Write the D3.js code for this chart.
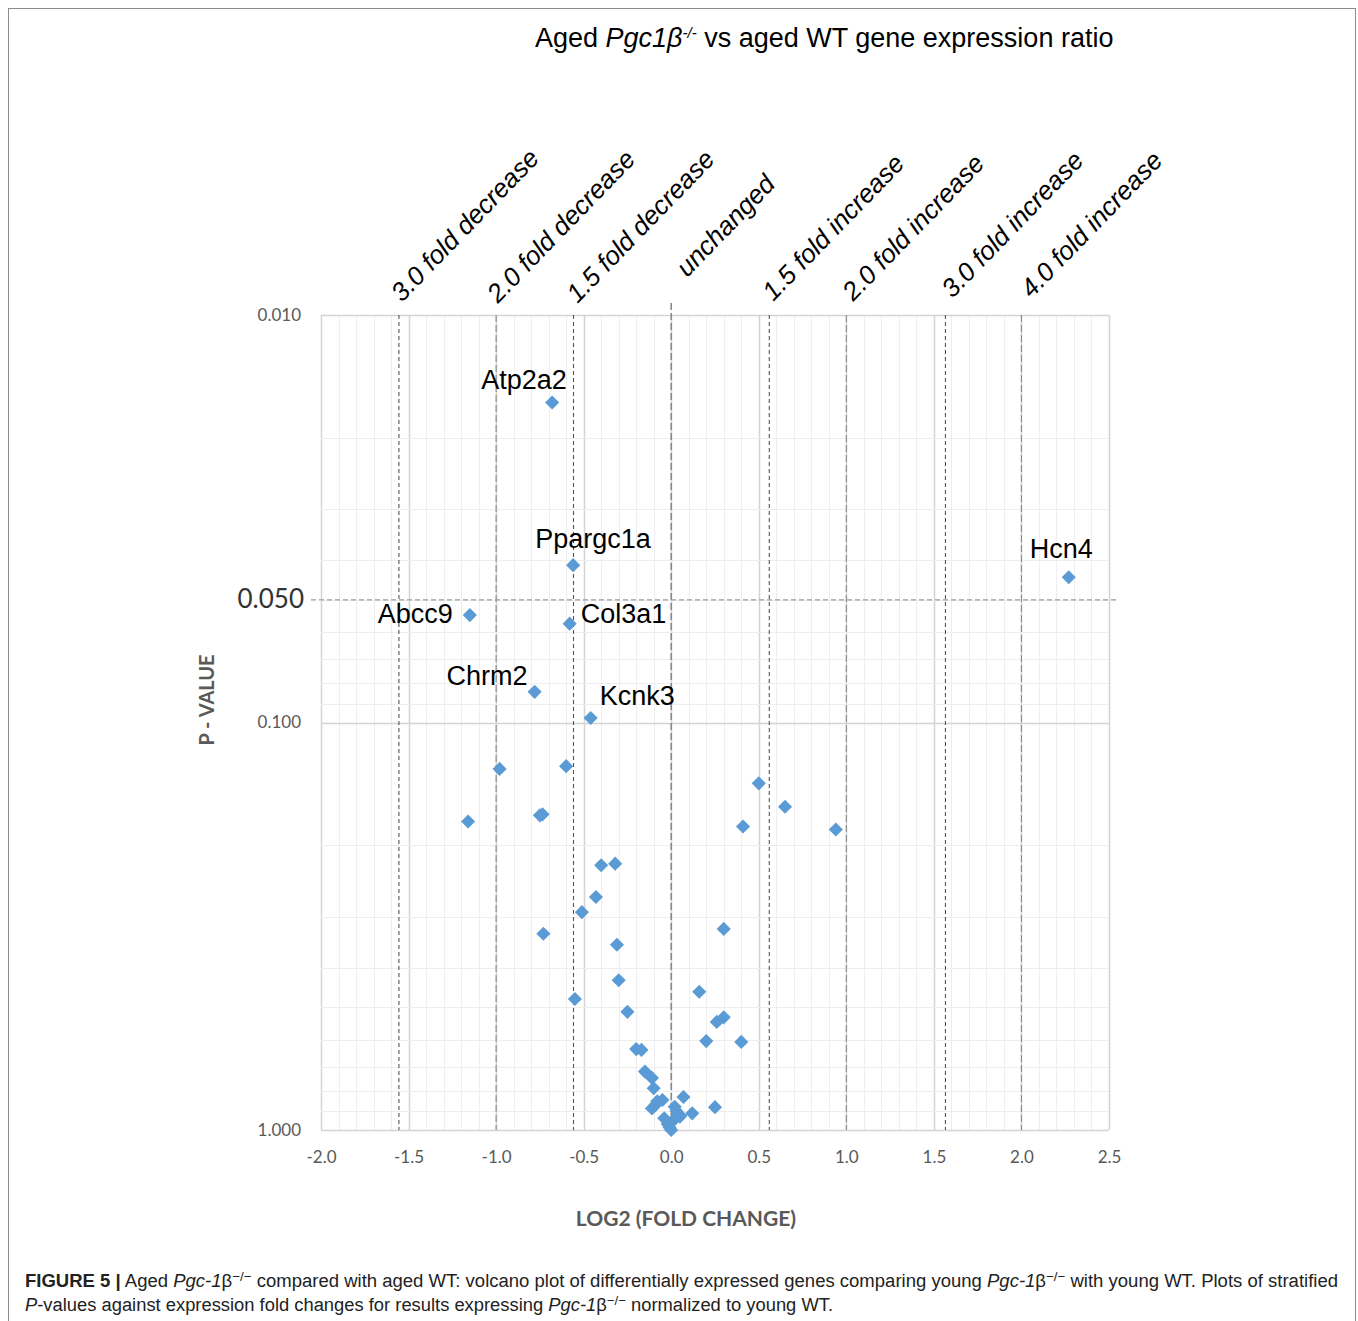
<!DOCTYPE html>
<html>
<head>
<meta charset="utf-8">
<script src="https://cdn.jsdelivr.net/npm/d3@7"></script>
<style>
body { margin:0; background:#fff; }
svg { display:block; }
</style>
</head>
<body>
<svg id="svg1"></svg>
<script>
// gene labels (null = unlabeled point), log2 fold change, p-value
var genes = ["Atp2a2","Ppargc1a","Hcn4","Abcc9","Col3a1","Chrm2","Kcnk3",
    null,null,null,null,null,null,null,null,null,null,null,null,null,null,null,null,null,null,null,null,
    null,null,null,null,null,null,null,null,null,null,null,null,null,null,null,null,null,null,null,null,
    null,null,null,null,null,null];
var log2fc = [-0.68,-0.56,2.27,-1.15,-0.58,-0.78,-0.46,
    -0.98,-0.60,-1.16,-0.75,-0.735,0.50,0.65,0.41,0.94,-0.40,-0.32,-0.43,-0.51,-0.73,-0.31,0.30,-0.30,-0.55,
    0.16,-0.25,0.26,0.30,0.20,0.40,-0.20,-0.17,-0.15,-0.11,-0.10,-0.05,-0.08,-0.11,-0.09,-0.04,-0.02,0.00,
    0.02,0.03,0.05,0.05,0.07,0.12,0.25,0.01,-0.01];
var pvalue = [0.0164,0.0411,0.0440,0.0545,0.0572,0.0841,0.0975,
    0.130,0.128,0.175,0.169,0.168,0.141,0.161,0.180,0.183,0.224,0.222,0.268,0.292,0.330,0.351,0.321,0.429,0.477,
    0.458,0.513,0.543,0.529,0.605,0.608,0.633,0.636,0.719,0.745,0.790,0.844,0.850,0.885,0.868,0.936,0.967,1.000,
    0.877,0.900,0.927,0.920,0.830,0.910,0.879,0.950,0.985];

// fold-change reference lines (log2 values, as drawn) and their captions
var foldLines = [-1.555,-1,-0.558,0,0.56,1,1.566,2];
var foldNames = ["3.0 fold decrease","2.0 fold decrease","1.5 fold decrease","unchanged",
    "1.5 fold increase","2.0 fold increase","3.0 fold increase","4.0 fold increase"];
var xTicks = [-2.0,-1.5,-1.0,-0.5,0.0,0.5,1.0,1.5,2.0,2.5];
var yTicks = [0.01,0.1,1];
var pCutoff = 0.05;

var points = log2fc.map(function(v,i){ return {fc:v, p:pvalue[i], name:genes[i]}; });

var screen = {width:1358,height:1321};
var svg = d3.select("#svg1").attr("width",screen.width).attr("height",screen.height);

var xScale = d3.scaleLinear().domain([-2,2.5]).range([321,1109]);
var yScale = d3.scaleLog().domain([0.01,1]).range([315,1130]);

// frame
svg.append("rect").attr("x",8.5).attr("y",8.5).attr("width",1347).attr("height",1340)
    .attr("fill","none").attr("stroke","#8c8c8c").attr("stroke-width",1);

// grid
var isMajorX = function(d){ return Math.abs(d*2-Math.round(d*2))<1e-6; };
var isMajorY = function(d){ return yTicks.some(function(t){return Math.abs(t-d)<1e-9;}); };
var grid = svg.append("g");
var minorX = d3.range(-20,26).map(function(d){ return d/10; });
grid.selectAll(".vx").data(minorX).enter().append("line")
    .attr("x1",function(d){return Math.round(xScale(d))+0.5;})
    .attr("x2",function(d){return Math.round(xScale(d))+0.5;})
    .attr("y1",315).attr("y2",1130)
    .attr("stroke",function(d){ return isMajorX(d) ? "#d4d4d4" : "#eeeeee"; })
    .attr("stroke-width",function(d){ return isMajorX(d) ? 1.5 : 1; });
var minorY = [];
[0.01,0.1].forEach(function(b){ for(var k=1;k<10;k++) minorY.push(b*k); });
minorY.push(1);
grid.selectAll(".hy").data(minorY).enter().append("line")
    .attr("x1",321).attr("x2",1109)
    .attr("y1",function(d){return Math.round(yScale(d))+0.5;})
    .attr("y2",function(d){return Math.round(yScale(d))+0.5;})
    .attr("stroke",function(d){ return isMajorY(d) ? "#d4d4d4" : "#eeeeee"; })
    .attr("stroke-width",function(d){ return isMajorY(d) ? 1.5 : 1; });

// fold-change dashed lines
svg.selectAll(".fold").data(foldLines).enter().append("line")
    .attr("x1",function(d){return xScale(d);}).attr("x2",function(d){return xScale(d);})
    .attr("y1",function(d){ return d===0 ? 303 : 315; }).attr("y2",1130)
    .attr("stroke",function(d){ return Number.isInteger(d) ? "#8a8a8a" : "#555"; })
    .attr("stroke-width",function(d){ return d===0 ? 1.6 : 1.1; })
    .attr("stroke-dasharray",function(d){ return Number.isInteger(d) ? "7,3" : "4,3"; });

// p = 0.05 line
svg.append("line").attr("x1",311).attr("x2",1116)
    .attr("y1",yScale(pCutoff)).attr("y2",yScale(pCutoff))
    .attr("stroke","#9a9a9a").attr("stroke-width",1.4).attr("stroke-dasharray","5,3");

// axes
var axisFont = "Lato, 'Open Sans', sans-serif";
var xAxis = d3.axisBottom(xScale).tickValues(xTicks).tickSize(0).tickPadding(21)
    .tickFormat(function(d){ return d.toFixed(1); });
svg.append("g").attr("transform","translate(0,1130)").call(xAxis)
    .call(function(g){ g.select(".domain").remove(); })
    .selectAll("text").attr("font-family",axisFont).attr("font-size",17).attr("fill","#595959");

var yAxis = d3.axisLeft(yScale).tickValues(yTicks).tickSize(0).tickPadding(20)
    .tickFormat(d3.format(".3f"));
svg.append("g").attr("transform","translate(321,0)").call(yAxis)
    .call(function(g){ g.select(".domain").remove(); })
    .selectAll("text").attr("font-family",axisFont).attr("font-size",17).attr("fill","#595959");

svg.append("text").text(d3.format(".3f")(pCutoff))
    .attr("x",304).attr("y",yScale(pCutoff)+8).attr("text-anchor","end")
    .attr("font-family",axisFont).attr("font-size",26).attr("fill","#333");

// axis titles
svg.append("text").text("LOG2 (FOLD CHANGE)")
    .attr("x",686).attr("y",1226).attr("text-anchor","middle")
    .attr("font-family",axisFont).attr("font-weight","bold")
    .attr("font-size",21).attr("fill","#595959");
svg.append("text").text("P - VALUE")
    .attr("text-anchor","middle")
    .attr("transform","translate(214,700) rotate(-90)")
    .attr("font-family",axisFont).attr("font-weight","bold")
    .attr("font-size",20).attr("fill","#595959");

// fold captions above the plot
var foldNudge = {
    "3.0 fold decrease":{dx:3,y:303},
    "2.0 fold decrease":{dx:2,y:304},
    "1.5 fold decrease":{dx:4,y:304},
    "unchanged":{dx:16,y:278},
    "1.5 fold increase":{dx:4,y:302},
    "2.0 fold increase":{dx:7,y:302},
    "3.0 fold increase":{dx:7,y:299},
    "4.0 fold increase":{dx:10,y:299}
};
svg.selectAll(".foldName").data(foldLines).enter().append("text")
    .text(function(d,i){ return foldNames[i]; })
    .attr("transform",function(d,i){
        var n = foldNudge[foldNames[i]];
        return "translate("+(xScale(d)+n.dx)+","+n.y+") rotate(-46)";
    })
    .attr("font-family","'Liberation Sans', Arial, sans-serif").attr("font-style","italic")
    .attr("font-size",26).attr("fill","#000");

// points
svg.selectAll(".pt").data(points).enter().append("path")
    .attr("d",d3.symbol().type(d3.symbolSquare).size(100))
    .attr("transform",function(d){ return "translate("+xScale(d.fc)+","+yScale(d.p)+") rotate(45)"; })
    .attr("fill","#5b9bd5");

// gene labels
var labelPos = {
    "Atp2a2":{dx:-71,dy:-14,a:"start"},
    "Ppargc1a":{dx:-38,dy:-17,a:"start"},
    "Hcn4":{dx:-39,dy:-19,a:"start"},
    "Abcc9":{dx:-17,dy:8,a:"end"},
    "Col3a1":{dx:11,dy:-1,a:"start"},
    "Chrm2":{dx:-7,dy:-7,a:"end"},
    "Kcnk3":{dx:9,dy:-13,a:"start"}
};
svg.selectAll(".lbl").data(points.filter(function(d){return d.name;})).enter().append("text")
    .text(function(d){return d.name;})
    .attr("x",function(d){return xScale(d.fc)+labelPos[d.name].dx;})
    .attr("y",function(d){return yScale(d.p)+labelPos[d.name].dy;})
    .attr("text-anchor",function(d){return labelPos[d.name].a;})
    .attr("font-family","'Liberation Sans', Arial, sans-serif").attr("font-size",27).attr("fill","#000");

// rich text helper
var addParts = function(textSel, parts)
{
    parts.forEach(function(p){
        var t = textSel.append("tspan").text(p.t);
        if(p.i) t.attr("font-style","italic");
        if(p.b) t.attr("font-weight","bold");
        if(p.sup){ t.attr("dy",-p.sup).attr("font-size",p.fs); }
        if(p.down){ t.attr("dy",p.down); }
    });
}

// title
var title = svg.append("text").attr("x",535).attr("y",47)
    .attr("font-family","'Liberation Sans', Arial, sans-serif").attr("font-size",27).attr("fill","#000");
addParts(title,[
    {t:"Aged "},{t:"Pgc1β",i:true},{t:"-/-",i:true,sup:9,fs:15},{t:" vs aged WT gene expression ratio",down:9}
]);

// caption
var capFont = "'Liberation Sans Narrow', 'Liberation Sans', Arial, sans-serif";
var cap1 = svg.append("text").attr("x",25).attr("y",1287)
    .attr("font-family",capFont).attr("font-size",18).attr("fill","#222")
    .attr("textLength",1313).attr("lengthAdjust","spacingAndGlyphs");
addParts(cap1,[
    {t:"FIGURE 5 |",b:true},{t:" Aged "},{t:"Pgc-1",i:true},{t:"β"},{t:"−/−",sup:6,fs:13},
    {t:" compared with aged WT: volcano plot of differentially expressed genes comparing young ",down:6},
    {t:"Pgc-1",i:true},{t:"β"},{t:"−/−",sup:6,fs:13},{t:" with young WT. Plots of stratified",down:6}
]);
var cap2 = svg.append("text").attr("x",25).attr("y",1311)
    .attr("font-family",capFont).attr("font-size",18).attr("fill","#222")
    .attr("textLength",808).attr("lengthAdjust","spacingAndGlyphs");
addParts(cap2,[
    {t:"P",i:true},{t:"-values against expression fold changes for results expressing "},
    {t:"Pgc-1",i:true},{t:"β"},{t:"−/−",sup:6,fs:13},{t:" normalized to young WT.",down:6}
]);
</script>
</body>
</html>
